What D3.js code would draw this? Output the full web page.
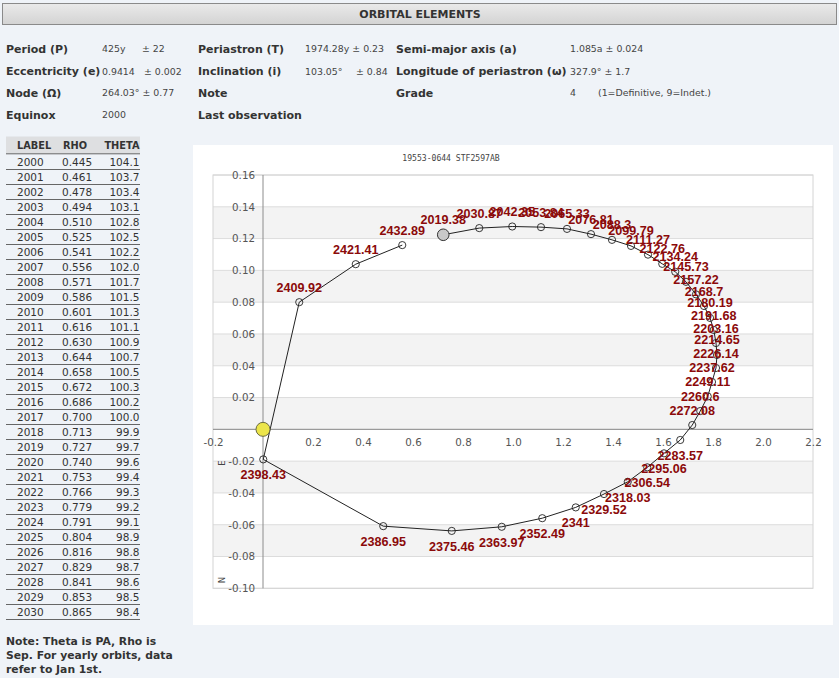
<!DOCTYPE html>
<html><head><meta charset="utf-8">
<script src="https://cdn.jsdelivr.net/npm/d3@7"></script>
<style>
html,body{margin:0;padding:0;background:#eff3f8;}
svg{display:block;}
</style></head>
<body>
<script>
// ---- Orbital elements text ----
const elemRows = [
  [["Period (P)",6],["425y",102,"v"],["± 22",142,"v"],["Periastron (T)",198],["1974.28y ± 0.23",305,"v"],["Semi-major axis (a)",396],["1.085a ± 0.024",570,"v"]],
  [["Eccentricity (e)",6],["0.9414",102,"v"],["± 0.002",144,"v"],["Inclination (i)",198],["103.05°",305,"v"],["± 0.84",356,"v"],["Longitude of periastron (ω)",396],["327.9° ± 1.7",570,"v"]],
  [["Node (Ω)",6],["264.03° ± 0.77",102,"v"],["Note",198],["Grade",396],["4",570,"v"],["(1=Definitive, 9=Indet.)",598,"v"]],
  [["Equinox",6],["2000",102,"v"],["Last observation",198]]
];
const rowY = [49, 71.5, 93, 115];

// ---- Ephemeris table ----
const tableLabels = d3.range(2000, 2031);
const tableRho = [0.445,0.461,0.478,0.494,0.510,0.525,0.541,0.556,0.571,0.586,0.601,0.616,0.630,0.644,0.658,0.672,0.686,0.700,0.713,0.727,0.740,0.753,0.766,0.779,0.791,0.804,0.816,0.829,0.841,0.853,0.865];
const tableTheta = [104.1,103.7,103.4,103.1,102.8,102.5,102.2,102.0,101.7,101.5,101.3,101.1,100.9,100.7,100.5,100.3,100.2,100.0,99.9,99.7,99.6,99.4,99.3,99.2,99.1,98.9,98.8,98.7,98.6,98.5,98.4];

// ---- Orbit points ----
const orbitYears = ["2019.38","2030.87","2042.35","2053.84","2065.33","2076.81","2088.3","2099.79","2111.27","2122.76","2134.24","2145.73","2157.22","2168.7","2180.19","2191.68","2203.16","2214.65","2226.14","2237.62","2249.11","2260.6","2272.08","2283.57","2295.06","2306.54","2318.03","2329.52","2341","2352.49","2363.97","2375.46","2386.95","2398.43","2409.92","2421.41","2432.89"];
const orbitX = [0.721,0.865,0.997,1.112,1.216,1.312,1.396,1.472,1.540,1.597,1.649,1.692,1.732,1.764,1.788,1.803,1.812,1.816,1.812,1.796,1.779,1.749,1.717,1.669,1.604,1.537,1.459,1.364,1.251,1.117,0.955,0.755,0.481,0.001,0.145,0.371,0.557];
const orbitY = [0.1224,0.1266,0.1276,0.1272,0.1261,0.1228,0.1192,0.1154,0.1099,0.1041,0.0991,0.0928,0.0849,0.0776,0.0701,0.0625,0.0543,0.0468,0.0386,0.0298,0.0207,0.0115,0.0027,-0.0067,-0.0151,-0.0239,-0.0330,-0.0407,-0.0491,-0.0559,-0.0613,-0.0639,-0.0609,-0.0189,0.0800,0.1039,0.1159];

const xTicks = [-0.2,0.2,0.4,0.6,0.8,1.0,1.2,1.4,1.6,1.8,2.0,2.2];
const yTicks = [0.16,0.14,0.12,0.10,0.08,0.06,0.04,0.02,-0.02,-0.04,-0.06,-0.08,-0.10];
const gridVals = d3.range(-0.10, 0.1601, 0.02).map(v => +v.toFixed(2));
const chartTitle = "19553-0644 STF2597AB";

const W = 839, H = 678;
const svg = d3.select("body").append("svg").attr("width", W).attr("height", H);
svg.append("rect").attr("width", W).attr("height", H).attr("fill", "#eff3f8");

// header bar
const defs = svg.append("defs");
const lg = defs.append("linearGradient").attr("id","hg").attr("x1",0).attr("x2",0).attr("y1",0).attr("y2",1);
lg.append("stop").attr("offset","0%").attr("stop-color","#eaeaea");
lg.append("stop").attr("offset","100%").attr("stop-color","#d3d3d3");
svg.append("rect").attr("x",2.5).attr("y",3.5).attr("width",834).attr("height",21)
  .attr("fill","url(#hg)").attr("stroke","#8a8a8a");
svg.append("text").attr("x",420).attr("y",14).attr("dy","0.36em").attr("text-anchor","middle")
  .attr("font-family","DejaVu Sans").attr("font-weight","bold").attr("font-size",11).attr("fill","#333")
  .text("ORBITAL ELEMENTS");

elemRows.forEach((row, i) => {
  row.forEach(c => {
    const isV = c[2] === "v";
    svg.append("text").attr("x", c[1]).attr("y", rowY[i]).attr("dy","0.36em")
      .attr("font-family","DejaVu Sans")
      .attr("font-weight", isV ? "normal" : "bold")
      .attr("font-size", isV ? 9.4 : 11)
      .attr("fill", isV ? "#444" : "#333")
      .text(c[0]);
  });
});

// table
const tg = svg.append("g").attr("font-family","DejaVu Sans");
tg.append("rect").attr("x",6).attr("y",136.5).attr("width",134).attr("height",17).attr("fill","#dedfe1");
tg.append("text").attr("x",17).attr("y",145.5).attr("dy","0.36em").attr("font-weight","bold").attr("font-size",9.8).attr("fill","#333").text("LABEL");
tg.append("text").attr("x",63).attr("y",145.5).attr("dy","0.36em").attr("font-weight","bold").attr("font-size",9.8).attr("fill","#333").text("RHO");
tg.append("text").attr("x",139.5).attr("y",145.5).attr("dy","0.36em").attr("text-anchor","end").attr("font-weight","bold").attr("font-size",9.8).attr("fill","#333").text("THETA");
tg.append("line").attr("x1",6).attr("x2",140).attr("y1",153.8).attr("y2",153.8).attr("stroke","#666");
tableLabels.forEach((lab, i) => {
  const cy = 161.8 + 15*i;
  tg.append("text").attr("x",17).attr("y",cy).attr("dy","0.36em").attr("font-size",10.5).attr("fill","#333").text(lab);
  tg.append("text").attr("x",62).attr("y",cy).attr("dy","0.36em").attr("font-size",10.5).attr("fill","#333").text(tableRho[i].toFixed(3));
  tg.append("text").attr("x",139.5).attr("y",cy).attr("dy","0.36em").attr("text-anchor","end").attr("font-size",10.5).attr("fill","#333").text(tableTheta[i].toFixed(1));
  tg.append("line").attr("x1",6).attr("x2",140).attr("y1",169.5+15*i).attr("y2",169.5+15*i).attr("stroke","#666");
});
["Note: Theta is PA, Rho is","Sep. For yearly orbits, data","refer to Jan 1st."].forEach((t,i) => {
  svg.append("text").attr("x",6).attr("y",641+14*i).attr("dy","0.36em")
    .attr("font-family","DejaVu Sans").attr("font-weight","bold").attr("font-size",10.8).attr("fill","#333").text(t);
});

// chart panel
svg.append("rect").attr("x",193).attr("y",145).attr("width",640).attr("height",480).attr("fill","#fff");
svg.append("text").attr("x",451).attr("y",158).attr("dy","0.36em").attr("text-anchor","middle")
  .attr("font-family","DejaVu Sans Mono").attr("font-size",8.1).attr("fill","#444").text(chartTitle);

const x = d3.scaleLinear().domain([-0.2, 2.2]).range([213, 813]);
const y = d3.scaleLinear().domain([-0.10, 0.16]).range([588.3, 175]);

// bands
const bands = d3.range(gridVals.length - 1).map(i => [gridVals[i], gridVals[i+1], i]);
svg.append("g").selectAll("rect").data(bands).join("rect")
  .attr("x", x(-0.2)).attr("width", x(2.2) - x(-0.2))
  .attr("y", d => y(d[1])).attr("height", d => y(d[0]) - y(d[1]))
  .attr("fill", d => ((gridVals.length - 2 - d[2]) % 2 === 1) ? "#f3f3f3" : "#ffffff");
svg.append("g").selectAll("line").data(gridVals).join("line")
  .attr("x1", x(-0.2)).attr("x2", x(2.2)).attr("y1", d => y(d)).attr("y2", d => y(d))
  .attr("stroke", "#dcdcdc");
svg.append("rect").attr("x", x(-0.2)).attr("y", y(0.16)).attr("width", x(2.2)-x(-0.2)).attr("height", y(-0.10)-y(0.16))
  .attr("fill","none").attr("stroke","#d4d4d4");
svg.append("line").attr("x1", x(-0.2)).attr("x2", x(2.2)).attr("y1", y(0)).attr("y2", y(0)).attr("stroke","#8c8c8c");
svg.append("line").attr("x1", x(0)).attr("x2", x(0)).attr("y1", y(0.16)).attr("y2", y(-0.10)).attr("stroke","#8c8c8c");

const fmt = (v, n) => (v < 0 ? "-" : "") + Math.abs(v).toFixed(n);
const xAxis = svg.append("g").attr("transform", `translate(0,${y(0)})`)
  .call(d3.axisBottom(x).tickValues(xTicks).tickSize(0).tickPadding(9).tickFormat(d => fmt(d,1)));
const yAxis = svg.append("g").attr("transform", `translate(${x(0)},0)`)
  .call(d3.axisLeft(y).tickValues(yTicks).tickSize(0).tickPadding(8).tickFormat(d => fmt(d,2)));
[xAxis, yAxis].forEach(a => {
  a.select(".domain").remove();
  a.selectAll("text").attr("font-family","DejaVu Sans").attr("font-size",10.3).attr("fill","#555");
});

svg.append("text").attr("transform","translate(225,463) rotate(-90)").attr("text-anchor","middle")
  .attr("font-family","DejaVu Sans").attr("font-size",8.5).attr("fill","#444").text("E");
svg.append("text").attr("transform","translate(225,580) rotate(-90)").attr("text-anchor","middle")
  .attr("font-family","DejaVu Sans").attr("font-size",8.5).attr("fill","#444").text("N");

// orbit
const pts = orbitYears.map((yr, i) => ({yr, x: orbitX[i], y: orbitY[i], i}));
svg.append("path").datum(pts)
  .attr("d", d3.line().x(d => x(d.x)).y(d => y(d.y)))
  .attr("fill","none").attr("stroke","#222").attr("stroke-width",1);
svg.append("g").selectAll("circle").data(pts.slice(1)).join("circle")
  .attr("cx", d => x(d.x)).attr("cy", d => y(d.y)).attr("r", 3.6)
  .attr("fill","none").attr("stroke","#222").attr("stroke-width",0.9);
svg.append("circle").attr("cx", x(pts[0].x)).attr("cy", y(pts[0].y)).attr("r", 5.8)
  .attr("fill","#c8c8c8").attr("stroke","#333").attr("stroke-width",1);

svg.append("g").selectAll("text").data(pts).join("text")
  .attr("x", d => x(d.x)).attr("y", d => y(d.y) + (d.y >= 0 ? -15 : 15.5)).attr("dy","0.36em")
  .attr("text-anchor","middle").attr("font-family","Liberation Sans").attr("font-weight","bold")
  .attr("font-size",12.6).attr("fill","#8b0a0a").text(d => d.yr);

// primary star
svg.append("circle").attr("cx", x(0)).attr("cy", y(0)).attr("r", 7)
  .attr("fill","#ece54a").attr("stroke","#6b6b40").attr("stroke-width",1);
</script>
</body></html>
